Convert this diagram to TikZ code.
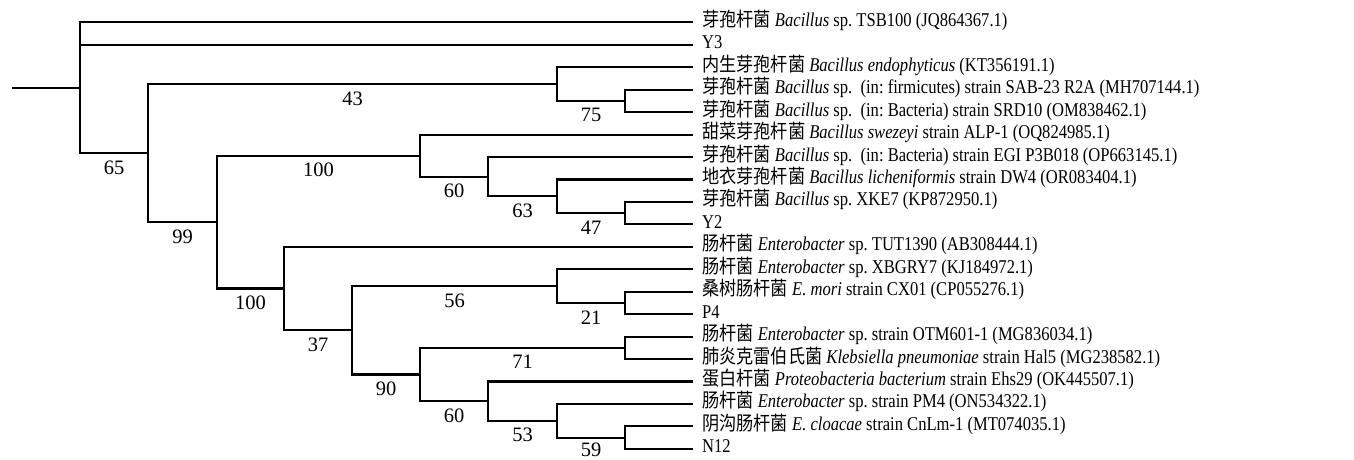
\documentclass[tikz,border=0pt]{standalone}
\usepackage{fontspec}
\setmainfont{Liberation Serif}
\newfontfamily\leaffont{Liberation Serif}[FakeStretch=0.85]
\newfontfamily\cjkfont{Noto Sans CJK SC}[FakeStretch=0.88]
\newcommand\zh[1]{{\cjkfont #1}}
\begin{document}
\begin{tikzpicture}[x=1pt,y=-1pt,
  br/.style={line width=2.1pt},
  leaf/.style={anchor=base west, inner sep=0pt, xshift=9pt, yshift=-4pt,
    font=\leaffont\fontsize{19.5}{20}\selectfont\frenchspacing},
  boot/.style={anchor=north, inner sep=0pt, yshift=-6.5pt,
    font=\fontsize{20.5}{21}\selectfont}]
\useasboundingbox (0,0) rectangle (1354,459);
% leaf tips
\foreach \i/\yy in {0/22.3,1/44.75,2/67.2,3/89.65,4/112.1,5/134.55,6/157.0,7/179.45,8/201.9,9/224.35,10/246.8,11/269.25,12/291.7,13/314.15,14/336.6,15/359.05,16/381.5,17/403.95,18/426.4,19/448.85}
  \coordinate (t\i) at (693,\yy);
% internal nodes
\coordinate (S) at (12,87.7);
\coordinate (R) at (80,87.7);
\coordinate (A) at (148,153.1);
\coordinate (B) at (557,84.05);
\coordinate (D) at (625,100.9);
\coordinate (C) at (217,222.1);
\coordinate (E) at (420,155.6);
\coordinate (G) at (488,176.6);
\coordinate (H) at (557,196.3);
\coordinate (I) at (625,213.1);
\coordinate (F) at (284,288.5);
\coordinate (J) at (352,330.3);
\coordinate (K) at (557,286.1);
\coordinate (M) at (625,302.9);
\coordinate (L) at (420,374.5);
\coordinate (N) at (625,347.8);
\coordinate (O) at (488,401.1);
\coordinate (P) at (557,420.8);
\coordinate (Q) at (625,437.6);
% leaf labels
\node[leaf] (l0) at (t0) {\zh{芽孢杆菌} \textit{Bacillus} sp. TSB100 (JQ864367.1)};
\node[leaf] (l1) at (t1) {Y3};
\node[leaf] (l2) at (t2) {\zh{内生芽孢杆菌} \textit{Bacillus endophyticus} (KT356191.1)};
\node[leaf] (l3) at (t3) {\zh{芽孢杆菌} \textit{Bacillus} sp.~~(in: firmicutes) strain SAB-23 R2A (MH707144.1)};
\node[leaf] (l4) at (t4) {\zh{芽孢杆菌} \textit{Bacillus} sp.~~(in: Bacteria) strain SRD10 (OM838462.1)};
\node[leaf] (l5) at (t5) {\zh{甜菜芽孢杆菌} \textit{Bacillus swezeyi} strain ALP-1 (OQ824985.1)};
\node[leaf] (l6) at (t6) {\zh{芽孢杆菌} \textit{Bacillus} sp.~~(in: Bacteria) strain EGI P3B018 (OP663145.1)};
\node[leaf] (l7) at (t7) {\zh{地衣芽孢杆菌} \textit{Bacillus licheniformis} strain DW4 (OR083404.1)};
\node[leaf] (l8) at (t8) {\zh{芽孢杆菌} \textit{Bacillus} sp. XKE7 (KP872950.1)};
\node[leaf] (l9) at (t9) {Y2};
\node[leaf] (l10) at (t10) {\zh{肠杆菌} \textit{Enterobacter} sp. TUT1390 (AB308444.1)};
\node[leaf] (l11) at (t11) {\zh{肠杆菌} \textit{Enterobacter} sp. XBGRY7 (KJ184972.1)};
\node[leaf] (l12) at (t12) {\zh{桑树肠杆菌} \textit{E. mori} strain CX01 (CP055276.1)};
\node[leaf] (l13) at (t13) {P4};
\node[leaf] (l14) at (t14) {\zh{肠杆菌} \textit{Enterobacter} sp. strain OTM601-1 (MG836034.1)};
\node[leaf] (l15) at (t15) {\zh{肺炎克雷伯氏菌} \textit{Klebsiella pneumoniae} strain Hal5 (MG238582.1)};
\node[leaf] (l16) at (t16) {\zh{蛋白杆菌} \textit{Proteobacteria bacterium} strain Ehs29 (OK445507.1)};
\node[leaf] (l17) at (t17) {\zh{肠杆菌} \textit{Enterobacter} sp. strain PM4 (ON534322.1)};
\node[leaf] (l18) at (t18) {\zh{阴沟肠杆菌} \textit{E. cloacae} strain CnLm-1 (MT074035.1)};
\node[leaf] (l19) at (t19) {N12};
% branches
\draw[br] (S) -- (R);
\draw[br] (R) |- (t0);
\draw[br] (R) |- (t1);
\draw[br] (R) |- (A) node[boot,pos=0.75] {65};
\draw[br] (A) |- (B) node[boot,pos=0.75] {43};
\draw[br] (A) |- (C) node[boot,pos=0.75] {99};
\draw[br] (B) |- (t2);
\draw[br] (B) |- (D) node[boot,pos=0.75] {75};
\draw[br] (D) |- (t3);
\draw[br] (D) |- (t4);
\draw[br] (C) |- (E) node[boot,pos=0.75] {100};
\draw[br] (C) |- (F) node[boot,pos=0.75] {100};
\draw[br] (E) |- (t5);
\draw[br] (E) |- (G) node[boot,pos=0.75] {60};
\draw[br] (G) |- (t6);
\draw[br] (G) |- (H) node[boot,pos=0.75] {63};
\draw[br] (H) |- (t7);
\draw[br] (H) |- (I) node[boot,pos=0.75] {47};
\draw[br] (I) |- (t8);
\draw[br] (I) |- (t9);
\draw[br] (F) |- (t10);
\draw[br] (F) |- (J) node[boot,pos=0.75] {37};
\draw[br] (J) |- (K) node[boot,pos=0.75] {56};
\draw[br] (J) |- (L) node[boot,pos=0.75] {90};
\draw[br] (K) |- (t11);
\draw[br] (K) |- (M) node[boot,pos=0.75] {21};
\draw[br] (M) |- (t12);
\draw[br] (M) |- (t13);
\draw[br] (L) |- (N) node[boot,pos=0.75] {71};
\draw[br] (L) |- (O) node[boot,pos=0.75] {60};
\draw[br] (N) |- (t14);
\draw[br] (N) |- (t15);
\draw[br] (O) |- (t16);
\draw[br] (O) |- (P) node[boot,pos=0.75] {53};
\draw[br] (P) |- (t17);
\draw[br] (P) |- (Q) node[boot,pos=0.75,yshift=2pt] {59};
\draw[br] (Q) |- (t18);
\draw[br] (Q) |- (t19);
\end{tikzpicture}
\end{document}
